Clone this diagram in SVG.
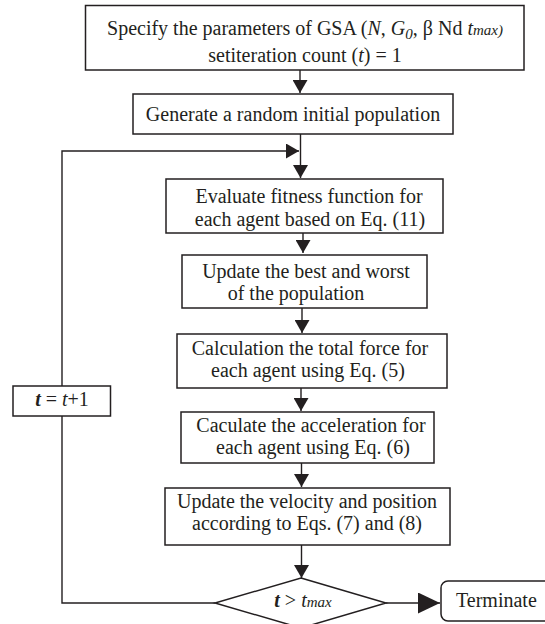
<svg xmlns="http://www.w3.org/2000/svg" width="545" height="624" viewBox="0 0 545 624" font-family="Liberation Serif, serif">
<defs>
<style>
.box{fill:#fff;stroke:#231f20;stroke-width:1.5}
.ln{fill:none;stroke:#231f20;stroke-width:1.4}
text{font-family:'Liberation Serif',serif;font-size:20px;fill:#231f20}
.c{text-anchor:middle}
.i{font-style:italic}
.bi{font-style:italic;font-weight:bold}
.s{font-size:15px;font-style:italic}
</style>
<marker id="ah" markerUnits="userSpaceOnUse" markerWidth="14" markerHeight="15" viewBox="0 0 14 15" refX="13" refY="7.5" orient="auto">
<path d="M0,0 L13,7.5 L0,15 Z" fill="#231f20"/>
</marker>
<marker id="ahL" markerUnits="userSpaceOnUse" markerWidth="23" markerHeight="21" viewBox="0 0 23 21" refX="22" refY="10.5" orient="auto">
<path d="M0,0 L22,10.5 L0,21 Z" fill="#231f20"/>
</marker>
</defs>
<rect width="545" height="624" fill="#fff"/>
<g id="connectors">
<line class="ln" x1="300" y1="70" x2="300" y2="93" marker-end="url(#ah)"/>
<line class="ln" x1="300.5" y1="134" x2="300.5" y2="178" marker-end="url(#ah)"/>
<polyline class="ln" points="215,603 62,603 62,416"/>
<polyline class="ln" points="62,386 62,151 299,151" marker-end="url(#ah)"/>
<line class="ln" x1="303" y1="224" x2="303" y2="253" marker-end="url(#ah)"/>
<line class="ln" x1="302" y1="308" x2="302" y2="333" marker-end="url(#ah)"/>
<line class="ln" x1="301" y1="388" x2="301" y2="411" marker-end="url(#ah)"/>
<line class="ln" x1="301.5" y1="463" x2="301.5" y2="487" marker-end="url(#ah)"/>
<line class="ln" x1="301.5" y1="545" x2="301.5" y2="578" marker-end="url(#ah)"/>
<line class="ln" x1="386" y1="603" x2="440" y2="603" marker-end="url(#ahL)"/>
</g>
<g id="n-start">
<rect class="box" x="85.5" y="5.5" width="438.5" height="64.5"/>
<text class="c" x="305" y="35">Specify the parameters of GSA (<tspan class="i">N</tspan>, <tspan class="i">G</tspan><tspan class="s" dy="4">0</tspan><tspan dy="-4">, β Nd </tspan><tspan class="i">t</tspan><tspan class="s">max)</tspan></text>
<text class="c" x="305" y="62">setiteration count (<tspan class="i">t</tspan>) = 1</text>
</g>
<g id="n-generate">
<rect class="box" x="133" y="94" width="320" height="40"/>
<text class="c" x="293" y="121">Generate a random initial population</text>
</g>
<g id="n-evaluate">
<rect class="box" x="166" y="179" width="277" height="54"/>
<text class="c" x="309" y="203">Evaluate fitness function for</text>
<text class="c" x="310" y="226">each agent based on Eq. (11)</text>
</g>
<g id="n-update-best">
<rect class="box" x="182" y="255" width="245" height="53"/>
<text class="c" x="306" y="278">Update the best and worst</text>
<text class="c" x="296" y="300">of the population</text>
</g>
<g id="n-force">
<rect class="box" x="177" y="334" width="270" height="54"/>
<text class="c" x="310" y="355">Calculation the total force for</text>
<text class="c" x="308" y="377">each agent using Eq. (5)</text>
</g>
<g id="n-accel">
<rect class="box" x="181" y="412" width="253" height="51"/>
<text class="c" x="311" y="432">Caculate the acceleration for</text>
<text class="c" x="313" y="454">each agent using Eq. (6)</text>
</g>
<g id="n-velocity">
<rect class="box" x="165" y="488" width="285" height="57"/>
<text class="c" x="307" y="508">Update the velocity and position</text>
<text class="c" x="307" y="530">according to Eqs. (7) and (8)</text>
</g>
<g id="n-decision">
<polygon class="box" points="301,578 386,603 301,628 215,603"/>
<text class="c" x="303" y="607"><tspan class="bi">t</tspan> &gt; <tspan class="i">t</tspan><tspan class="s">max</tspan></text>
</g>
<g id="n-inc">
<rect class="box" x="13" y="386" width="97.5" height="30"/>
<text class="c" x="62" y="406"><tspan class="bi">t</tspan> = <tspan class="i">t</tspan>+1</text>
</g>
<g id="n-terminate">
<rect class="box" x="441" y="581" width="120" height="40" rx="7"/>
<text x="456" y="607">Terminate</text>
</g>
</svg>
